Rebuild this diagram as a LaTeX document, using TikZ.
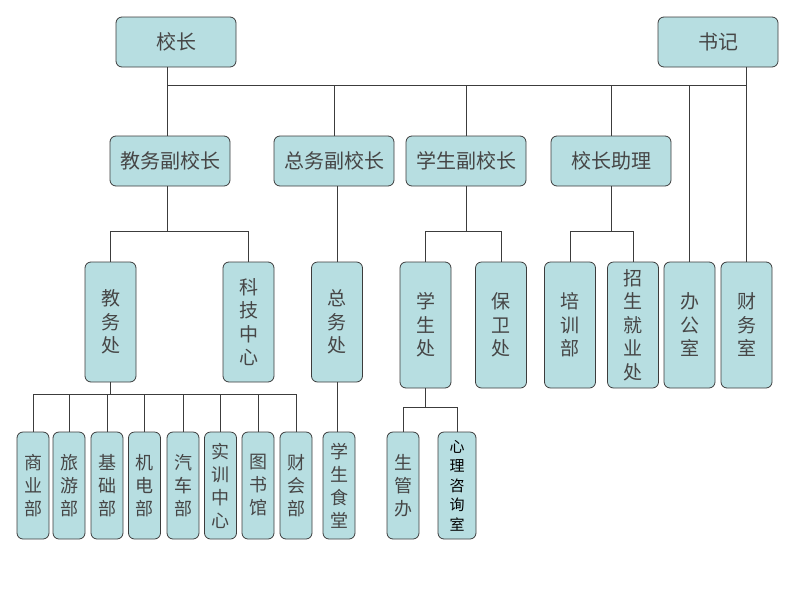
\documentclass[tikz,border=0pt]{standalone}
\usepackage{fontspec}
\newfontfamily\cjk{Noto Sans CJK SC}
\definecolor{boxFill}{RGB}{183,222,225}
\definecolor{boxLine}{RGB}{60,60,60}
\definecolor{boxText}{RGB}{70,70,70}
\tikzset{
  unitBox/.style={rectangle, rounded corners=6pt, draw=boxLine, fill=boxFill, line width=0.8pt, inner sep=0pt, text=boxText, align=center},
  headBox/.style={unitBox, minimum width=120pt, minimum height=50pt, font=\cjk\fontsize{20}{20}\selectfont},
  deptBox/.style={unitBox, minimum width=51pt, font=\cjk\fontsize{19}{23.5}\selectfont},
  secBox/.style={unitBox, minimum width=32pt, minimum height=107pt, font=\cjk\fontsize{18}{23}\selectfont},
  link/.style={draw=boxLine, line width=0.9pt}
}
\begin{document}
\begin{tikzpicture}[x=1pt, y=-1pt]
	\useasboundingbox (0,0) rectangle (800,600);

	\node[headBox](principalBox) at (176,42){校长};
	\node[headBox](secretaryBox) at (718,42){书记};
	\node[headBox](academicVpBox) at (170,161){教务副校长};
	\node[headBox](generalVpBox) at (334,161){总务副校长};
	\node[headBox](studentVpBox) at (466,161){学生副校长};
	\node[headBox](assistantBox) at (611,161){校长助理};

	\node[deptBox, minimum height=120pt](academicBox) at (110.5,322){教\\务\\处};
	\node[deptBox, minimum height=120pt](techBox) at (248.5,322){科\\技\\中\\心};
	\node[deptBox, minimum height=120pt](generalBox) at (337,322){总\\务\\处};
	\node[deptBox, minimum height=126pt](studentBox) at (425.5,325){学\\生\\处};
	\node[deptBox, minimum height=126pt](securityBox) at (501,325){保\\卫\\处};
	\node[deptBox, minimum height=126pt](trainingBox) at (570,325){培\\训\\部};
	\node[deptBox, minimum height=126pt](admissionBox) at (633,325){招\\生\\就\\业\\处};
	\node[deptBox, minimum height=126pt](officeBox) at (689.5,325){办\\公\\室};
	\node[deptBox, minimum height=126pt](financeBox) at (746.5,325){财\\务\\室};

	\node[secBox](businessBox) at (33,485.5){商\\业\\部};
	\node[secBox](tourismBox) at (69,485.5){旅\\游\\部};
	\node[secBox](basicsBox) at (107,485.5){基\\础\\部};
	\node[secBox](mechBox) at (144.5,485.5){机\\电\\部};
	\node[secBox](autoBox) at (183,485.5){汽\\车\\部};
	\node[secBox](practiceBox) at (220.5,485.5){实\\训\\中\\心};
	\node[secBox](libraryBox) at (258,485.5){图\\书\\馆};
	\node[secBox](accountingBox) at (296,485.5){财\\会\\部};
	\node[secBox](canteenBox) at (339,485.5){学\\生\\食\\堂};
	\node[secBox](dormBox) at (403,485.5){生\\管\\办};
	\node[secBox, minimum width=38pt, text=black, font=\cjk\fontsize{15}{19.5}\selectfont](counselBox) at (457,485.5){心\\理\\咨\\询\\室};

	\coordinate (topBusL) at (167,85);
	\coordinate (topBusR) at (746,85);
	\draw[link] (principalBox.south -| topBusL) -- (academicVpBox.north -| topBusL);
	\draw[link] (topBusL) -- (topBusR);
	\draw[link] (secretaryBox.south -| topBusR) -- (financeBox.north -| topBusR);
	\foreach \b in {generalVpBox, studentVpBox, assistantBox, officeBox}
		\draw[link] (topBusL -| \b.north) -- (\b.north);

	\draw[link] (academicVpBox.south -| topBusL) -- ++(0,45) coordinate (academicBus);
	\foreach \b in {academicBox, techBox}
		\draw[link] (academicBus) -| (\b.north);
	\draw[link] (generalVpBox.south -| generalBox.north) -- (generalBox.north);
	\draw[link] (generalBox.south) -- (canteenBox.north -| generalBox.south);
	\draw[link] (studentVpBox.south) -- ++(0,45) coordinate (studentBus);
	\foreach \b in {studentBox, securityBox}
		\draw[link] (studentBus) -| (\b.north);
	\draw[link] (assistantBox.south) -- ++(0,45) coordinate (assistantBus);
	\foreach \b in {trainingBox, admissionBox}
		\draw[link] (assistantBus) -| (\b.north);

	\draw[link] (academicBox.south) -- ++(0,12) coordinate (sectionBus);
	\foreach \b in {businessBox, tourismBox, basicsBox, mechBox, autoBox, practiceBox, libraryBox, accountingBox}
		\draw[link] (sectionBus) -| (\b.north);
	\draw[link] (studentBox.south) -- ++(0,19) coordinate (studentOfficeBus);
	\foreach \b in {dormBox, counselBox}
		\draw[link] (studentOfficeBus) -| (\b.north);
\end{tikzpicture}
\end{document}
